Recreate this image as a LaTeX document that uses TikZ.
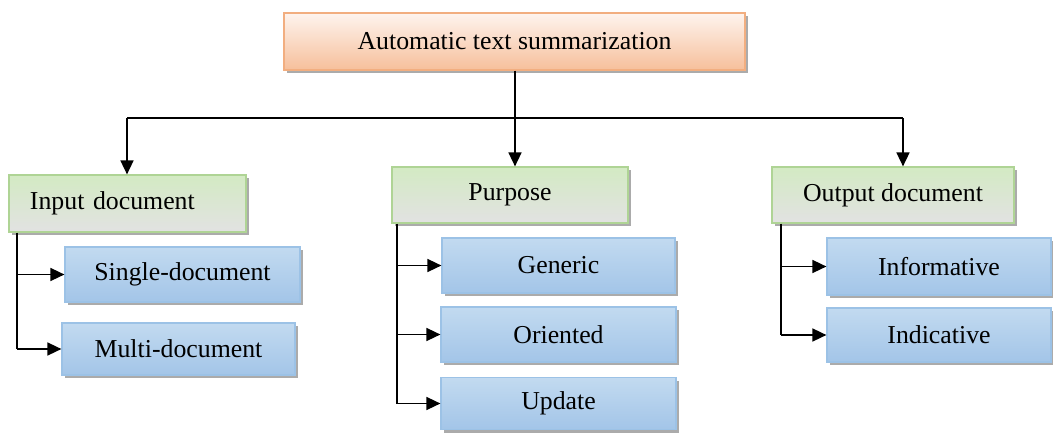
\documentclass[tikz,border=0pt]{standalone}
\usepackage{fontspec}
\setmainfont{Liberation Serif}
\usetikzlibrary{shadows,arrows.meta}
\definecolor{topline}{HTML}{F2AE80}
\definecolor{toptop}{HTML}{FEF4EE}
\definecolor{topbot}{HTML}{F6BF9B}
\definecolor{grline}{HTML}{AFD495}
\definecolor{grtop}{HTML}{D3EAC3}
\definecolor{grmid}{HTML}{F1F1F1}
\definecolor{grbot}{HTML}{E2E2E2}
\definecolor{blline}{HTML}{9CC2E6}
\definecolor{bltop}{HTML}{C2DAF0}
\definecolor{blmid}{HTML}{DDEBF7}
\definecolor{blbot}{HTML}{A3C5E8}
\tikzset{
  boxbase/.style={rectangle, line width=1.2pt, inner sep=0pt,
    font=\fontsize{25.8}{30}\selectfont,
    drop shadow={shadow xshift=2.5pt, shadow yshift=-3pt, fill=black!55, opacity=.6}},
  topbox/.style={boxbase, draw=topline, top color=toptop, bottom color=topbot},
  catbox/.style={boxbase, draw=grline, top color=grtop, middle color=grmid, bottom color=grbot},
  leafbox/.style={boxbase, draw=blline, top color=bltop, middle color=blmid, bottom color=blbot},
  conn/.style={line width=1.6pt, black},
  arr/.style={conn, -{Triangle[length=14pt,width=13pt]}}
}
\begin{document}
\begin{tikzpicture}[x=1pt,y=-1pt]
\useasboundingbox (0,0) rectangle (1053,434);
% top
\node[topbox, minimum width=461pt, minimum height=57pt] (top) at (514.5,41.5) {Automatic text summarization};
% categories
\node[catbox, minimum width=237pt, minimum height=57pt, text width=195pt, align=left, inner xsep=21pt] (inp) at (127.5,203.5) {Input document};
\node[catbox, minimum width=236pt, minimum height=56pt] (pur) at (510,195) {Purpose};
\node[catbox, minimum width=242pt, minimum height=56pt] (out) at (893,195) {Output document};
% leaves
\node[leafbox, minimum width=235pt, minimum height=55pt] (sin) at (182.5,274.5) {Single-document};
\node[leafbox, minimum width=233pt, minimum height=52pt] (mul) at (178.5,349) {Multi-document};
\node[leafbox, minimum width=233pt, minimum height=55pt] (gen) at (558.5,265.5) {Generic};
\node[leafbox, minimum width=235pt, minimum height=55pt] (ori) at (558.5,334.5) {Oriented};
\node[leafbox, minimum width=235pt, minimum height=52pt] (upd) at (558.5,403.5) {Update};
\node[leafbox, minimum width=224pt, minimum height=57pt] (inf) at (939,266.5) {Informative};
\node[leafbox, minimum width=224pt, minimum height=54pt] (ind) at (939,335) {Indicative};
% top connectors
\coordinate (j) at (515,118);
\coordinate (jl) at (127,118);
\coordinate (jr) at (903,118);
\draw[conn] (j |- top.south) -- (j);
\draw[conn] (jl) -- (jr);
\draw[arr] (jl) -- (jl |- inp.north);
\draw[arr] (j) -- (j |- pur.north);
\draw[arr] (jr) -- (jr |- out.north);
% input children
\coordinate (ia) at (17,0);
\draw[conn] (ia |- inp.south) -- (ia |- mul.west);
\draw[arr] (ia |- sin.west) -- (sin.west);
\draw[arr] (ia |- mul.west) -- (mul.west);
% purpose children
\coordinate (pa) at (397,0);
\draw[conn] (pa |- pur.south) -- (pa |- upd.west);
\draw[arr] (pa |- gen.west) -- (gen.west);
\draw[arr] (pa |- ori.west) -- (ori.west);
\draw[arr] (pa |- upd.west) -- (upd.west);
% output children
\coordinate (oa) at (781,0);
\draw[conn] (oa |- out.south) -- (oa |- ind.west);
\draw[arr] (oa |- inf.west) -- (inf.west);
\draw[arr] (oa |- ind.west) -- (ind.west);
\end{tikzpicture}
\end{document}
